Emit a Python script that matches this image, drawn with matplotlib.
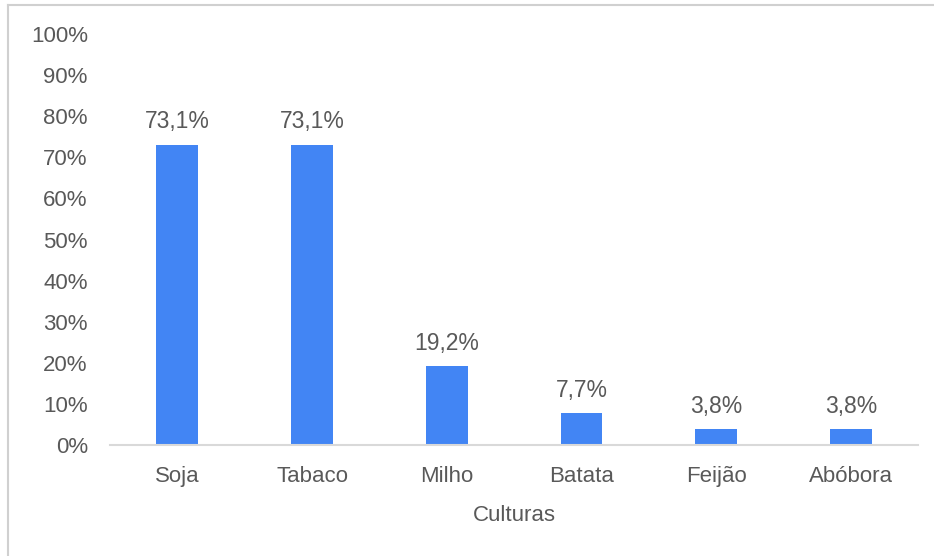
import matplotlib
matplotlib.use("Agg")
import matplotlib.pyplot as plt
from matplotlib.lines import Line2D
import numpy as np

culturas = ["Soja", "Tabaco", "Milho", "Batata", "Feijão", "Abóbora"]
percentuais = [73.1, 73.1, 19.2, 7.7, 3.8, 3.8]
yticks = [0, 10, 20, 30, 40, 50, 60, 70, 80, 90, 100]

plt.rcParams['font.family'] = ['Liberation Sans', 'DejaVu Sans']
cor_texto = '#595959'

fig = plt.figure(figsize=(9.34, 5.56), dpi=100)
ax = fig.add_axes([0.1178, 0.1996, 0.8652, 0.7392])

x = np.arange(len(culturas))
ax.bar(x, percentuais, width=0.31, color='#4285F4')
for xi, v in zip(x, percentuais):
    ax.text(xi, v + 4.0, ("%.1f%%" % v).replace('.', ','), ha='center', va='baseline',
            fontsize=16.5, color=cor_texto)

ax.set_xlim(-0.5, len(culturas) - 0.5)
ax.set_ylim(0, 100)
ax.set_yticks(yticks)
ax.set_yticklabels(["%d%%" % t for t in yticks])
ax.set_xticks(x)
ax.set_xticklabels(culturas)
ax.tick_params(axis='both', length=0, labelsize=16, labelcolor=cor_texto)
ax.tick_params(axis='y', pad=16)
ax.tick_params(axis='x', pad=15)
ax.set_xlabel("Culturas", fontsize=16, color=cor_texto, labelpad=13)

for s in ['top', 'right', 'left']:
    ax.spines[s].set_visible(False)
ax.spines['bottom'].set_color('#d9d9d9')
ax.spines['bottom'].set_linewidth(1.5)

# chart border (partially cropped)
fig.add_artist(Line2D([8 / 934, 8 / 934], [0, 1 - 5 / 556], color='#d0d0d0', lw=1.5,
                      transform=fig.transFigure))
fig.add_artist(Line2D([8 / 934, 1], [1 - 5 / 556, 1 - 5 / 556], color='#d0d0d0', lw=1.5,
                      transform=fig.transFigure))

fig.savefig("out.png", dpi=100)
